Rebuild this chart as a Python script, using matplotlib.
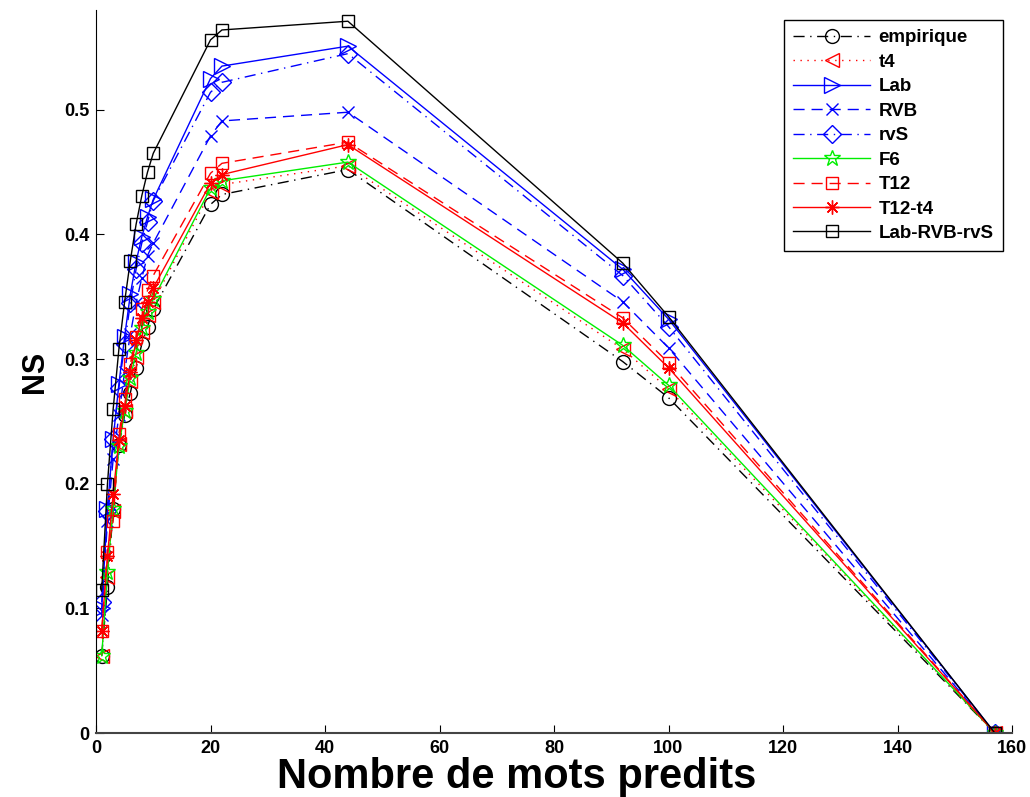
import matplotlib
matplotlib.use("Agg")
import matplotlib.pyplot as plt

plt.rcParams['font.family'] = ['Liberation Sans', 'DejaVu Sans']

x = [1, 2, 3, 4, 5, 6, 7, 8, 9, 10, 20, 22, 44, 92, 100, 157]

empirique = [0.062, 0.117, 0.180, 0.231, 0.255, 0.273, 0.293, 0.312, 0.326, 0.340, 0.424, 0.432, 0.452, 0.298, 0.269, 0.0]
t4 = [0.062, 0.125, 0.178, 0.232, 0.258, 0.282, 0.302, 0.322, 0.335, 0.346, 0.434, 0.440, 0.455, 0.308, 0.276, 0.0]
lab = [0.100, 0.180, 0.236, 0.280, 0.318, 0.352, 0.378, 0.398, 0.414, 0.428, 0.525, 0.535, 0.551, 0.372, 0.332, 0.0]
rvb = [0.095, 0.170, 0.220, 0.255, 0.290, 0.320, 0.345, 0.365, 0.383, 0.393, 0.479, 0.491, 0.498, 0.346, 0.309, 0.0]
rvs = [0.105, 0.178, 0.236, 0.277, 0.312, 0.345, 0.372, 0.393, 0.410, 0.427, 0.514, 0.522, 0.545, 0.367, 0.326, 0.0]
f6 = [0.062, 0.129, 0.180, 0.230, 0.258, 0.285, 0.305, 0.325, 0.338, 0.348, 0.437, 0.443, 0.458, 0.311, 0.279, 0.0]
t12 = [0.082, 0.145, 0.170, 0.240, 0.268, 0.296, 0.318, 0.340, 0.355, 0.367, 0.449, 0.457, 0.474, 0.333, 0.297, 0.0]
t12_t4 = [0.082, 0.142, 0.192, 0.235, 0.262, 0.290, 0.315, 0.333, 0.346, 0.357, 0.441, 0.448, 0.472, 0.329, 0.293, 0.0]
lab_rvb_rvs = [0.115, 0.200, 0.260, 0.308, 0.346, 0.379, 0.408, 0.431, 0.450, 0.465, 0.556, 0.564, 0.571, 0.377, 0.334, 0.0]

labels = ['empirique', 't4', 'Lab', 'RVB', 'rvS', 'F6', 'T12', 'T12-t4', 'Lab-RVB-rvS']
xticks = [0, 20, 40, 60, 80, 100, 120, 140, 160]
yticks = [0, 0.1, 0.2, 0.3, 0.4, 0.5]

fig = plt.figure(figsize=(10.30, 7.97), dpi=100)
L, R, T, B = 96, 1012, 10, 733
ax = fig.add_axes([L/1030, 1-B/797, (R-L)/1030, (B-T)/797])

series = [empirique, t4, lab, rvb, rvs, f6, t12, t12_t4, lab_rvb_rvs]
styles = [
    dict(color='black', ls=(0, (8, 4, 1, 4)), marker='o', ms=10),
    dict(color='red', ls=(0, (1, 4)), marker='<', ms=10),
    dict(color='blue', ls='-', marker='>', ms=11),
    dict(color='blue', ls=(0, (8, 5)), marker='x', ms=9),
    dict(color='blue', ls=(0, (8, 4, 1, 4)), marker='D', ms=9),
    dict(color='#00ee00', ls='-', marker='*', ms=12),
    dict(color='red', ls=(0, (8, 5)), marker='s', ms=9),
    dict(color='red', ls='-', marker=(8, 2, 0), ms=10),
    dict(color='black', ls='-', marker='s', ms=9),
]
for y, lab_, st in zip(series, labels, styles):
    ax.plot(x, y, color=st['color'], linestyle=st['ls'], marker=st['marker'],
            markersize=st['ms'], markerfacecolor='none', markeredgecolor=st['color'],
            markeredgewidth=1.0, linewidth=1.0, label=lab_)

ax.set_xlim(0, 160)
ax.set_ylim(0, 0.58)
ax.set_xticks(xticks)
ax.set_yticks(yticks)
ax.set_xticklabels([str(v) for v in xticks])
ax.set_yticklabels(['0'] + ['%.1f' % v for v in yticks[1:]])
ax.tick_params(direction='in', length=6, width=0.8, labelsize=13, pad=5)
for lbl in ax.get_xticklabels() + ax.get_yticklabels():
    lbl.set_fontweight('bold')
ax.spines['top'].set_visible(False)
ax.spines['right'].set_visible(False)
ax.spines['bottom'].set_color('#444444')
ax.spines['bottom'].set_linewidth(1.5)

ax.set_xlabel('Nombre de mots predits', fontsize=30, fontweight='bold', va='baseline')
ax.xaxis.set_label_coords((517 - L) / (R - L), -(788 - B) / (B - T))
ax.set_ylabel('NS', fontsize=22, fontweight='bold', labelpad=10)

leg = ax.legend(loc='upper right', bbox_to_anchor=(1003/1030, 1-20/797),
                bbox_transform=fig.transFigure, prop={'weight': 'bold', 'size': 13.5},
                handlelength=4.1, handletextpad=0.45, labelspacing=0.39, fancybox=False,
                framealpha=1, edgecolor='black', borderpad=0.5, borderaxespad=0)
leg.get_frame().set_linewidth(1.0)

fig.savefig('out.png', dpi=100)
